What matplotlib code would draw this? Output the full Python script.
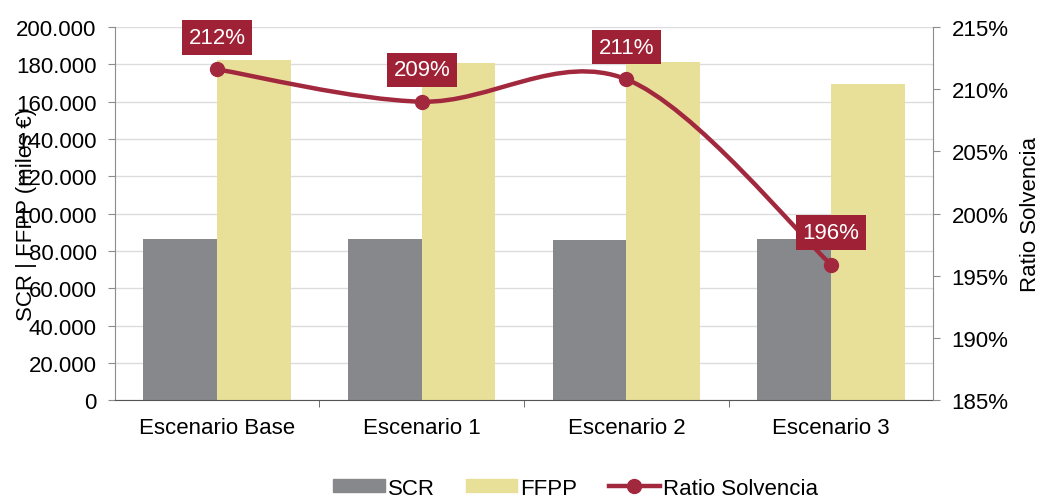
import numpy as np
import matplotlib.pyplot as plt
from matplotlib.path import Path
from matplotlib.patches import PathPatch, Patch
from matplotlib.lines import Line2D
from matplotlib.ticker import FuncFormatter

plt.rcParams['font.family'] = ['Liberation Sans', 'DejaVu Sans']

# Data
escenarios = ["Escenario Base", "Escenario 1", "Escenario 2", "Escenario 3"]
scr = [86300, 86200, 86000, 86400]
ffpp = [182300, 180500, 181200, 169700]
ratio = [211.6, 209.0, 210.8, 195.9]
ratio_labels = ["212%", "209%", "211%", "196%"]

c_scr = "#87888B"
c_ffpp = "#E8DF98"
c_line = "#A2283E"
c_box = "#9E2136"
c_axis = "#8C8C8C"
fs = 16

fig = plt.figure(figsize=(10.43, 5.02), dpi=100)
ax = fig.add_axes([0.110, 0.201, 0.785, 0.743])
x = np.arange(len(escenarios))
w = 0.36

ax.bar(x - w / 2, scr, w, color=c_scr, zorder=2)
ax.bar(x + w / 2, ffpp, w, color=c_ffpp, zorder=2)
ax.set_xlim(-0.5, 3.5)
ax.set_ylim(0, 200000)
ax.set_yticks(np.arange(0, 200001, 20000))
ax.yaxis.set_major_formatter(FuncFormatter(lambda v, p: f"{int(v):,}".replace(",", ".")))
ax.grid(axis="y", color="#DCDCDC", lw=1, zorder=0)
ax.set_xticks(x)
ax.set_xticklabels(escenarios, fontsize=fs)
ax.set_xticks([0.5, 1.5, 2.5], minor=True)
ax.tick_params(axis="x", which="major", length=0, pad=12)
ax.tick_params(axis="x", which="minor", length=5, color="#555555")
ax.tick_params(axis="y", labelsize=fs, length=5, color=c_axis, pad=8)
# the axis title sits over the tick labels, as in the original
ax.set_ylabel("SCR | FFPP (miles €)", fontsize=fs, labelpad=-15)
for s in ["top", "right"]:
    ax.spines[s].set_visible(False)
ax.spines["left"].set_color(c_axis)
ax.spines["bottom"].set_color("#555555")

ax2 = ax.twinx()
ax2.set_ylim(185, 215)
ax2.set_yticks(np.arange(185, 216, 5))
ax2.yaxis.set_major_formatter(FuncFormatter(lambda v, p: f"{int(v)}%"))
ax2.tick_params(axis="y", labelsize=fs, length=5, color=c_axis, pad=8)
ax2.set_ylabel("Ratio Solvencia", fontsize=fs, labelpad=8)
for s in ["top", "left", "bottom"]:
    ax2.spines[s].set_visible(False)
ax2.spines["right"].set_color(c_axis)

# smoothed line (Catmull-Rom style bezier through the data points)
pts = np.column_stack([x, ratio]).astype(float)
verts = [tuple(pts[0])]
codes = [Path.MOVETO]
for i in range(len(pts) - 1):
    p0 = pts[max(i - 1, 0)]
    p1 = pts[i]
    p2 = pts[i + 1]
    p3 = pts[min(i + 2, len(pts) - 1)]
    c1 = p1 + (p2 - p0) / 6
    c2 = p2 - (p3 - p1) / 6
    verts += [tuple(c1), tuple(c2), tuple(p2)]
    codes += [Path.CURVE4] * 3
ax2.add_patch(PathPatch(Path(verts, codes), fill=False, edgecolor=c_line, lw=3.2, zorder=3))
ax2.plot(x, ratio, ls="none", marker="o", ms=10, color=c_line, zorder=4)

for xi, yi, lab in zip(x, ratio, ratio_labels):
    ax2.annotate(lab, (xi, yi), xytext=(0, 32), textcoords="offset pixels",
                 ha="center", va="center", color="white", fontsize=fs, zorder=5,
                 bbox=dict(boxstyle="square,pad=0.3", fc=c_box, ec="none"))

handles = [Patch(color=c_scr), Patch(color=c_ffpp),
           Line2D([0], [0], color=c_line, lw=3.2, marker="o", ms=10)]
fig.legend(handles, ["SCR", "FFPP", "Ratio Solvencia"], loc="lower center",
           bbox_to_anchor=(0.552, -0.035), ncol=3, frameon=False, fontsize=fs,
           handlelength=2.3, handleheight=0.55, handletextpad=0.15, columnspacing=1.4)

fig.savefig("out.png", dpi=100)
